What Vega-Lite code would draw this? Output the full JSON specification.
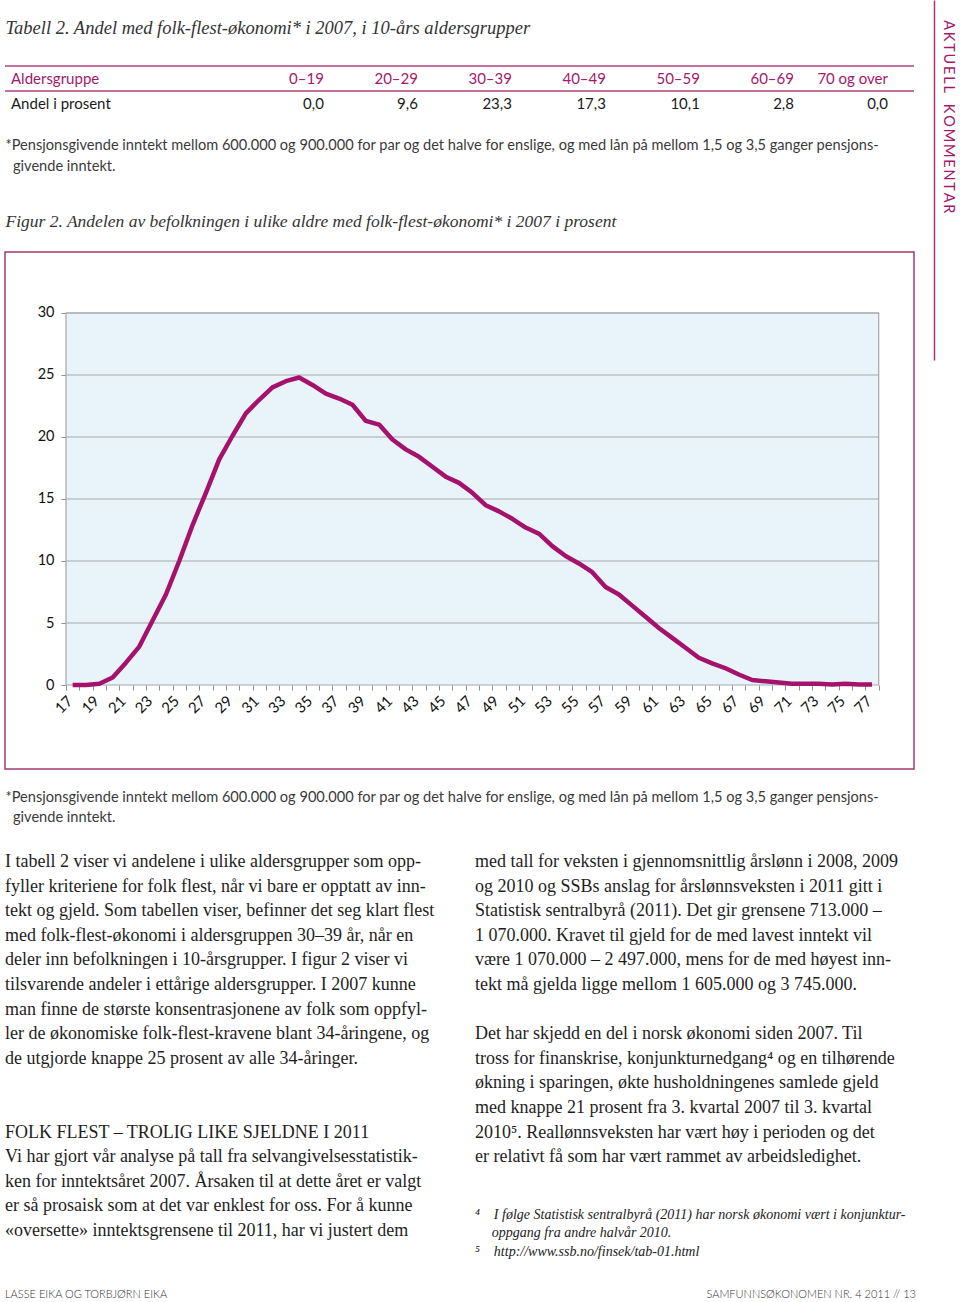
{
  "$schema": "https://vega.github.io/schema/vega-lite/v6.json",
  "padding": {"left": 4, "top": 0, "right": 0, "bottom": 0},
  "background": "white",
  "bounds": "full",
  "spacing": 0,
  "config": {"view": {"stroke": null}, "concat": {"spacing": 0}, "font": "Lato"},
  "resolve": {"scale": {"x": "independent", "y": "independent", "color": "independent"}},
  "datasets": {
    "tabell": [
      {"rad": "Aldersgruppe", "gruppe": "0–19", "tekst": "0–19"},
      {"rad": "Aldersgruppe", "gruppe": "20–29", "tekst": "20–29"},
      {"rad": "Aldersgruppe", "gruppe": "30–39", "tekst": "30–39"},
      {"rad": "Aldersgruppe", "gruppe": "40–49", "tekst": "40–49"},
      {"rad": "Aldersgruppe", "gruppe": "50–59", "tekst": "50–59"},
      {"rad": "Aldersgruppe", "gruppe": "60–69", "tekst": "60–69"},
      {"rad": "Aldersgruppe", "gruppe": "70 og over", "tekst": "70 og over"},
      {"rad": "Andel i prosent", "gruppe": "0–19", "tekst": "0,0"},
      {"rad": "Andel i prosent", "gruppe": "20–29", "tekst": "9,6"},
      {"rad": "Andel i prosent", "gruppe": "30–39", "tekst": "23,3"},
      {"rad": "Andel i prosent", "gruppe": "40–49", "tekst": "17,3"},
      {"rad": "Andel i prosent", "gruppe": "50–59", "tekst": "10,1"},
      {"rad": "Andel i prosent", "gruppe": "60–69", "tekst": "2,8"},
      {"rad": "Andel i prosent", "gruppe": "70 og over", "tekst": "0,0"}
    ],
    "andeler": [
      {"alder": 17, "andel": 0.0}, {"alder": 18, "andel": 0.0}, {"alder": 19, "andel": 0.1},
      {"alder": 20, "andel": 0.6}, {"alder": 21, "andel": 1.8}, {"alder": 22, "andel": 3.1},
      {"alder": 23, "andel": 5.2}, {"alder": 24, "andel": 7.3}, {"alder": 25, "andel": 10.0},
      {"alder": 26, "andel": 12.9}, {"alder": 27, "andel": 15.5}, {"alder": 28, "andel": 18.2},
      {"alder": 29, "andel": 20.1}, {"alder": 30, "andel": 21.9}, {"alder": 31, "andel": 23.0},
      {"alder": 32, "andel": 24.0}, {"alder": 33, "andel": 24.5}, {"alder": 34, "andel": 24.8},
      {"alder": 35, "andel": 24.2}, {"alder": 36, "andel": 23.5}, {"alder": 37, "andel": 23.1},
      {"alder": 38, "andel": 22.6}, {"alder": 39, "andel": 21.3}, {"alder": 40, "andel": 21.0},
      {"alder": 41, "andel": 19.8}, {"alder": 42, "andel": 19.0}, {"alder": 43, "andel": 18.4},
      {"alder": 44, "andel": 17.6}, {"alder": 45, "andel": 16.8}, {"alder": 46, "andel": 16.3},
      {"alder": 47, "andel": 15.5}, {"alder": 48, "andel": 14.5}, {"alder": 49, "andel": 14.0},
      {"alder": 50, "andel": 13.4}, {"alder": 51, "andel": 12.7}, {"alder": 52, "andel": 12.2},
      {"alder": 53, "andel": 11.2}, {"alder": 54, "andel": 10.4}, {"alder": 55, "andel": 9.8},
      {"alder": 56, "andel": 9.1}, {"alder": 57, "andel": 7.9}, {"alder": 58, "andel": 7.3},
      {"alder": 59, "andel": 6.4}, {"alder": 60, "andel": 5.5}, {"alder": 61, "andel": 4.6},
      {"alder": 62, "andel": 3.8}, {"alder": 63, "andel": 3.0}, {"alder": 64, "andel": 2.2},
      {"alder": 65, "andel": 1.75}, {"alder": 66, "andel": 1.35}, {"alder": 67, "andel": 0.85},
      {"alder": 68, "andel": 0.4}, {"alder": 69, "andel": 0.3}, {"alder": 70, "andel": 0.2},
      {"alder": 71, "andel": 0.1}, {"alder": 72, "andel": 0.1}, {"alder": 73, "andel": 0.1},
      {"alder": 74, "andel": 0.05}, {"alder": 75, "andel": 0.1}, {"alder": 76, "andel": 0.05},
      {"alder": 77, "andel": 0.05}
    ],
    "rutenett": [
      {"verdi": 5}, {"verdi": 10}, {"verdi": 15}, {"verdi": 20}, {"verdi": 25}, {"verdi": 30}
    ],
    "brodtekst": [
      {"kolonne": "venstre", "del": "brødtekst", "tekst": "I tabell 2 viser vi andelene i ulike aldersgrupper som opp-\nfyller kriteriene for folk flest, når vi bare er opptatt av inn-\ntekt og gjeld. Som tabellen viser, befinner det seg klart flest\nmed folk-flest-økonomi i aldersgruppen 30–39 år, når en\ndeler inn befolkningen i 10-årsgrupper. I figur 2 viser vi\ntilsvarende andeler i ettårige aldersgrupper. I 2007 kunne\nman finne de største konsentrasjonene av folk som oppfyl-\nler de økonomiske folk-flest-kravene blant 34-åringene, og\nde utgjorde knappe 25 prosent av alle 34-åringer.\n\u200b\n\u200b\nFOLK FLEST – TROLIG LIKE SJELDNE I 2011\nVi har gjort vår analyse på tall fra selvangivelsesstatistik-\nken for inntektsåret 2007. Årsaken til at dette året er valgt\ner så prosaisk som at det var enklest for oss. For å kunne\n«oversette» inntektsgrensene til 2011, har vi justert dem"},
      {"kolonne": "høyre", "del": "brødtekst", "tekst": "med tall for veksten i gjennomsnittlig årslønn i 2008, 2009\nog 2010 og SSBs anslag for årslønnsveksten i 2011 gitt i\nStatistisk sentralbyrå (2011). Det gir grensene 713.000 –\n1 070.000. Kravet til gjeld for de med lavest inntekt vil\nvære 1 070.000 – 2 497.000, mens for de med høyest inn-\ntekt må gjelda ligge mellom 1 605.000 og 3 745.000.\n\u200b\nDet har skjedd en del i norsk økonomi siden 2007. Til\ntross for finanskrise, konjunkturnedgang⁴ og en tilhørende\nøkning i sparingen, økte husholdningenes samlede gjeld\nmed knappe 21 prosent fra 3. kvartal 2007 til 3. kvartal\n2010⁵. Reallønnsveksten har vært høy i perioden og det\ner relativt få som har vært rammet av arbeidsledighet."}
    ]
  },
  "hconcat": [
    {
      "bounds": "flush",
      "spacing": 0,
      "resolve": {"scale": {"x": "independent", "y": "independent", "color": "independent"}},
      "vconcat": [
        {
          "width": 1, "height": 66,
          "data": {"values": [{"del": "tabelltittel", "tekst": "Tabell 2. Andel med folk-flest-økonomi* i 2007, i 10-års aldersgrupper"}]},
          "mark": {"type": "text", "align": "left", "baseline": "middle", "font": "Liberation Serif", "fontStyle": "italic", "fontSize": 18.5, "color": "#333333"},
          "encoding": {
            "text": {"field": "tekst"},
            "y": {"field": "del", "type": "nominal", "scale": {"type": "point", "align": 0.4242}, "axis": null}
          }
        },
        {
          "width": 909, "height": 50,
          "resolve": {"scale": {"x": "independent"}},
          "layer": [
            {
              "data": {"values": [{"rad": "Aldersgruppe"}]},
              "mark": {"type": "rule", "color": "#b0417c", "strokeWidth": 1.5},
              "encoding": {
                "y": {"field": "rad", "type": "nominal", "bandPosition": 0, "scale": {"type": "band", "domain": ["Aldersgruppe", "Andel i prosent"], "paddingInner": 0, "paddingOuter": 0}, "axis": null}
              }
            },
            {
              "data": {"values": [{"rad": "Aldersgruppe"}]},
              "mark": {"type": "rule", "color": "#b0417c", "strokeWidth": 1.5},
              "encoding": {
                "y": {"field": "rad", "type": "nominal", "bandPosition": 1, "axis": null}
              }
            },
            {
              "data": {"values": [{"rad": "Aldersgruppe"}, {"rad": "Andel i prosent"}]},
              "mark": {"type": "text", "align": "left", "baseline": "middle", "font": "Lato", "fontSize": 15},
              "encoding": {
                "text": {"field": "rad"},
                "y": {"field": "rad", "type": "nominal", "axis": null},
                "x": {"datum": "radnavn", "type": "nominal", "scale": {"type": "point", "align": 0.0066}, "axis": null},
                "color": {"field": "rad", "type": "nominal", "scale": {"domain": ["Aldersgruppe", "Andel i prosent"], "range": ["#a3196b", "#1a1a1a"]}, "legend": null}
              }
            },
            {
              "data": {"name": "tabell"},
              "mark": {"type": "text", "align": "right", "baseline": "middle", "font": "Lato", "fontSize": 15},
              "encoding": {
                "text": {"field": "tekst"},
                "y": {"field": "rad", "type": "nominal", "axis": null},
                "x": {"field": "gruppe", "type": "ordinal", "bandPosition": 1,
                  "scale": {"type": "band", "domain": ["radnavn", "0–19", "20–29", "30–39", "40–49", "50–59", "60–69", "70 og over"], "paddingInner": 0, "paddingOuter": 0.835, "align": 0.834}, "axis": null},
                "color": {"field": "rad", "type": "nominal", "legend": null}
              }
            }
          ]
        },
        {
          "width": 1, "height": 80,
          "data": {"values": [{"del": "fotnote", "tekst": "*Pensjonsgivende inntekt mellom 600.000 og 900.000 for par og det halve for enslige, og med lån på mellom 1,5 og 3,5 ganger pensjons-\n\u200b\u00a0\u00a0givende inntekt."}]},
          "mark": {"type": "text", "align": "left", "baseline": "middle", "font": "Lato", "fontSize": 14.6, "lineBreak": "\n", "lineHeight": 21, "color": "#3a3a3a"},
          "encoding": {
            "text": {"field": "tekst"},
            "y": {"field": "del", "type": "nominal", "scale": {"type": "point", "align": 0.375}, "axis": null}
          }
        },
        {
          "width": 1, "height": 56,
          "data": {"values": [{"del": "figurtittel", "tekst": "Figur 2. Andelen av befolkningen i ulike aldre med folk-flest-økonomi* i 2007 i prosent"}]},
          "mark": {"type": "text", "align": "left", "baseline": "middle", "font": "Liberation Serif", "fontStyle": "italic", "fontSize": 17.5, "color": "#333333"},
          "encoding": {
            "text": {"field": "tekst"},
            "y": {"field": "del", "type": "nominal", "scale": {"type": "point", "align": 0.4643}, "axis": null}
          }
        },
        {
          "width": 909, "height": 517,
          "view": {"stroke": "#a3396f", "strokeWidth": 1.5},
          "resolve": {"axis": {"x": "independent", "y": "independent"}},
          "layer": [
            {
              "data": {"values": [{"flate": "plott"}]},
              "mark": {"type": "rect", "fill": "#e9f4fa", "stroke": "#a4a8ab", "strokeWidth": 1.2},
              "encoding": {
                "x": {"datum": 16.5, "type": "quantitative", "scale": {"domain": [11.921, 80.15], "nice": false, "zero": false}, "axis": null},
                "x2": {"datum": 77.5},
                "y": {"datum": 0, "type": "quantitative", "scale": {"domain": [-6.774, 34.919], "nice": false, "zero": false}, "axis": null},
                "y2": {"datum": 30}
              }
            },
            {
              "data": {"name": "rutenett"},
              "mark": {"type": "rule", "color": "#a4a8ab", "strokeWidth": 1.2},
              "encoding": {
                "x": {"datum": 16.5, "type": "quantitative", "axis": null},
                "x2": {"datum": 77.5},
                "y": {"field": "verdi", "type": "quantitative", "axis": null}
              }
            },
            {
              "data": {"name": "andeler"},
              "mark": {"type": "line", "color": "#a5126b", "strokeWidth": 4.5, "strokeJoin": "round"},
              "encoding": {
                "x": {"field": "alder", "type": "quantitative",
                  "axis": {"orient": "bottom", "offset": -84, "values": [16.5,17.5,18.5,19.5,20.5,21.5,22.5,23.5,24.5,25.5,26.5,27.5,28.5,29.5,30.5,31.5,32.5,33.5,34.5,35.5,36.5,37.5,38.5,39.5,40.5,41.5,42.5,43.5,44.5,45.5,46.5,47.5,48.5,49.5,50.5,51.5,52.5,53.5,54.5,55.5,56.5,57.5,58.5,59.5,60.5,61.5,62.5,63.5,64.5,65.5,66.5,67.5,68.5,69.5,70.5,71.5,72.5,73.5,74.5,75.5,76.5,77.5],
                    "labelExpr": "((datum.value + 0.5) % 2 == 1) && datum.value < 77 ? '' + (datum.value + 0.5) : ''",
                    "domain": false, "grid": false, "ticks": true, "tickSize": 5, "tickColor": "#8c9094", "tickWidth": 1,
                    "labelOffset": 3.5, "labelAngle": -45, "labelAlign": "right", "labelBaseline": "middle", "labelPadding": 8,
                    "labelFont": "Lato", "labelFontSize": 15, "labelColor": "#111111", "labelOverlap": false, "labelFlush": false, "labelBound": false, "title": null}},
                "y": {"field": "andel", "type": "quantitative",
                  "axis": {"orient": "left", "offset": -61, "values": [0, 5, 10, 15, 20, 25, 30], "domain": false, "grid": false, "ticks": true, "tickSize": 5, "tickColor": "#8c9094",
                    "labelPadding": 7, "labelFont": "Lato", "labelFontSize": 14.5, "labelColor": "#111111", "labelFlush": false, "title": null}}
              }
            }
          ]
        },
        {
          "width": 1, "height": 81,
          "data": {"values": [{"del": "fotnote", "tekst": "*Pensjonsgivende inntekt mellom 600.000 og 900.000 for par og det halve for enslige, og med lån på mellom 1,5 og 3,5 ganger pensjons-\n\u200b\u00a0\u00a0givende inntekt."}]},
          "mark": {"type": "text", "align": "left", "baseline": "middle", "font": "Lato", "fontSize": 14.6, "lineBreak": "\n", "lineHeight": 20, "color": "#3a3a3a"},
          "encoding": {
            "text": {"field": "tekst"},
            "y": {"field": "del", "type": "nominal", "scale": {"type": "point", "align": 0.358}, "axis": null}
          }
        },
        {
          "width": 929, "height": 355,
          "data": {"name": "brodtekst"},
          "mark": {"type": "text", "align": "left", "baseline": "middle", "font": "Liberation Serif", "fontSize": 18, "lineBreak": "\n", "lineHeight": 24.6, "color": "#1e1e1e"},
          "encoding": {
            "text": {"field": "tekst"},
            "x": {"field": "kolonne", "type": "nominal", "bandPosition": 0, "scale": {"type": "band", "domain": ["venstre", "høyre"], "paddingInner": 0.0234, "paddingOuter": 0, "align": 0}, "axis": null},
            "y": {"field": "del", "type": "nominal", "scale": {"type": "point", "align": 0.0338}, "axis": null}
          }
        },
        {
          "width": 929, "height": 75,
          "data": {"values": [{"kolonne": "høyre", "del": "noter", "tekst": "⁴\u2003I følge Statistisk sentralbyrå (2011) har norsk økonomi vært i konjunktur-\n\u200b\u2003\u2009oppgang fra andre halvår 2010.\n⁵\u2003http://www.ssb.no/finsek/tab-01.html"}]},
          "mark": {"type": "text", "align": "left", "baseline": "middle", "font": "Liberation Serif", "fontStyle": "italic", "fontSize": 14, "lineBreak": "\n", "lineHeight": 18.5, "color": "#222222"},
          "encoding": {
            "text": {"field": "tekst"},
            "x": {"field": "kolonne", "type": "nominal", "bandPosition": 0, "scale": {"type": "band", "domain": ["venstre", "høyre"], "paddingInner": 0.0234, "paddingOuter": 0, "align": 0}, "axis": null},
            "y": {"field": "del", "type": "nominal", "scale": {"type": "point", "align": 0.1333}, "axis": null}
          }
        },
        {
          "width": 911, "height": 22,
          "data": {"values": [
            {"side": "venstre", "del": "bunntekst", "tekst": "LASSE EIKA OG TORBJØRN EIKA"},
            {"side": "høyre", "del": "bunntekst", "tekst": "SAMFUNNSØKONOMEN NR. 4 2011 // 13"}
          ]},
          "layer": [
            {
              "transform": [{"filter": "datum.side == 'venstre'"}],
              "mark": {"type": "text", "align": "left", "baseline": "middle", "font": "Lato", "fontSize": 11, "fontWeight": 300, "color": "#333333"},
              "encoding": {
                "text": {"field": "tekst"},
                "x": {"field": "side", "type": "nominal", "scale": {"type": "point", "domain": ["venstre", "høyre"], "padding": 0}, "axis": null},
                "y": {"field": "del", "type": "nominal", "scale": {"type": "point", "align": 0.682}, "axis": null}
              }
            },
            {
              "transform": [{"filter": "datum.side == 'høyre'"}],
              "mark": {"type": "text", "align": "right", "baseline": "middle", "font": "Lato", "fontSize": 11, "fontWeight": 300, "color": "#333333"},
              "encoding": {
                "text": {"field": "tekst"},
                "x": {"field": "side", "type": "nominal", "axis": null},
                "y": {"field": "del", "type": "nominal", "axis": null}
              }
            }
          ]
        }
      ]
    },
    {
      "width": 27, "height": 360,
      "data": {"values": [{"seksjon": "spalte", "tekst": "A\u2009K\u2009T\u2009U\u2009E\u2009L\u2009L\u2003K\u2009O\u2009M\u2009M\u2009E\u2009N\u2009T\u2009A\u2009R"}]},
      "mark": {"type": "text", "angle": 90, "align": "left", "baseline": "middle", "font": "Lato", "fontSize": 14.5, "fontWeight": "normal", "color": "#a3196b"},
      "encoding": {
        "text": {"field": "tekst"},
        "y": {"field": "seksjon", "type": "nominal", "scale": {"type": "point", "align": 0.056},
          "axis": {"orient": "left", "domain": true, "domainColor": "#a3396f", "domainWidth": 1.5, "ticks": false, "labels": false, "grid": false, "title": null}}
      }
    }
  ]
}
